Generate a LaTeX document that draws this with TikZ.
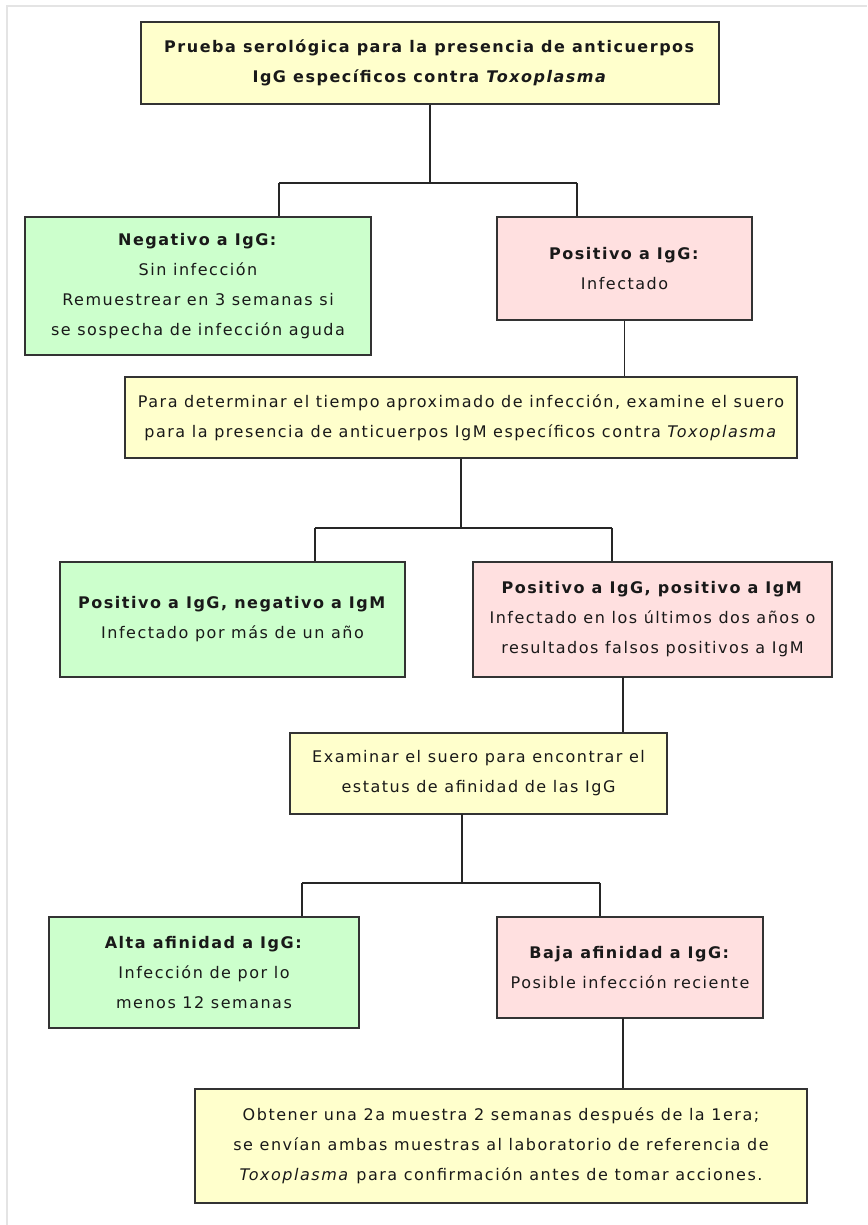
\documentclass[tikz,border=0pt]{standalone}
\usepackage{fontspec}
\setmainfont{DejaVu Sans}[LetterSpace=9.5]
\usetikzlibrary{calc}
\definecolor{boxyellow}{HTML}{FFFFCC}
\definecolor{boxgreen}{HTML}{CCFFCC}
\definecolor{boxpink}{HTML}{FFE0E0}
\definecolor{boxline}{HTML}{333333}
\definecolor{framegray}{HTML}{E4E4E4}
\def\toxo{\textit{Toxoplasma}}

\begin{document}
\begin{tikzpicture}[x=1pt,y=-1pt,
	box/.style={draw=boxline, line width=1.6pt, rectangle, align=center, inner sep=0pt, text=black!90,
		font=\fontsize{16}{30}\selectfont, execute at begin node={\rule{0pt}{28pt}}},
	ybox/.style={box, fill=boxyellow},
	gbox/.style={box, fill=boxgreen},
	pbox/.style={box, fill=boxpink},
	link/.style={draw=black!85, line width=1.3pt}]
			%%%%% START %%%%%
			\useasboundingbox (0,0) rectangle (867,1225);
			\draw[framegray, line width=1.5pt] (7,1225) -- (7,6) -- (867,6);
			
			% first test
			\node[ybox, minimum width=578, minimum height=82] (prueba) at (430,63)
				{\textbf{Prueba serológica para la presencia de anticuerpos}\\\textbf{IgG específicos contra \toxo}};
			\node[gbox, minimum width=346, minimum height=138] (neg) at (198,286)
				{\textbf{Negativo a IgG:}\\Sin infección\\Remuestrear en 3 semanas si\\se sospecha de infección aguda};
			\node[pbox, minimum width=255, minimum height=103] (pos) at (624.5,268.5)
				{\textbf{Positivo a IgG:}\\Infectado};
			
			\coordinate (j1l) at (279,183);
			\coordinate (j1r) at (577,183);
			\draw[link] (prueba.south) -- (prueba.south |- j1l);
			\draw[link] (j1l) -- (j1r);
			\draw[link] (j1l) -- (j1l |- neg.north);
			\draw[link] (j1r) -- (j1r |- pos.north);
			
			% IgM test
			\node[ybox, minimum width=672, minimum height=81] (igm) at (461,417.5)
				{Para determinar el tiempo aproximado de infección, examine el suero\\para la presencia de anticuerpos IgM específicos contra \toxo};
			\draw[link] (pos.south) -- (pos.south |- igm.north);
			
			\node[gbox, minimum width=345, minimum height=115] (negm) at (232.5,619.5)
				{\textbf{Positivo a IgG, negativo a IgM}\\Infectado por más de un año};
			\node[pbox, minimum width=359, minimum height=115] (posm) at (652.5,619.5)
				{\textbf{Positivo a IgG, positivo a IgM}\\Infectado en los últimos dos años o\\resultados falsos positivos a IgM};
			
			\coordinate (j2l) at (315,528);
			\coordinate (j2r) at (612,528);
			\draw[link] (igm.south) -- (igm.south |- j2l);
			\draw[link] (j2l) -- (j2r);
			\draw[link] (j2l) -- (j2l |- negm.north);
			\draw[link] (j2r) -- (j2r |- posm.north);
			
			% avidity
			\node[ybox, minimum width=377, minimum height=81] (afin) at (478.5,773.5)
				{Examinar el suero para encontrar el\\estatus de afinidad de las IgG};
			\coordinate (c2) at (623,677);
			\draw[link] (c2) -- (c2 |- afin.north);
			
			\node[gbox, minimum width=310, minimum height=111] (alta) at (204,972.5)
				{\textbf{Alta afinidad a IgG:}\\Infección de por lo\\menos 12 semanas};
			\node[pbox, minimum width=266, minimum height=101] (baja) at (630,967.5)
				{\textbf{Baja afinidad a IgG:}\\Posible infección reciente};
			
			\coordinate (j3t) at (462,814);
			\coordinate (j3l) at (302,883);
			\coordinate (j3r) at (600,883);
			\draw[link] (j3t) -- (j3t |- j3l);
			\draw[link] (j3l) -- (j3r);
			\draw[link] (j3l) -- (j3l |- alta.north);
			\draw[link] (j3r) -- (j3r |- baja.north);
			
			% second sample
			\node[ybox, minimum width=612, minimum height=114] (muestra) at (501,1146)
				{Obtener una 2a muestra 2 semanas después de la 1era;\\se envían ambas muestras al laboratorio de referencia de\\\toxo{} para confirmación antes de tomar acciones.};
			\coordinate (c3) at (623,1018);
			\draw[link] (c3) -- (c3 |- muestra.north);
			%%%%% END %%%%%
\end{tikzpicture}
\end{document}
